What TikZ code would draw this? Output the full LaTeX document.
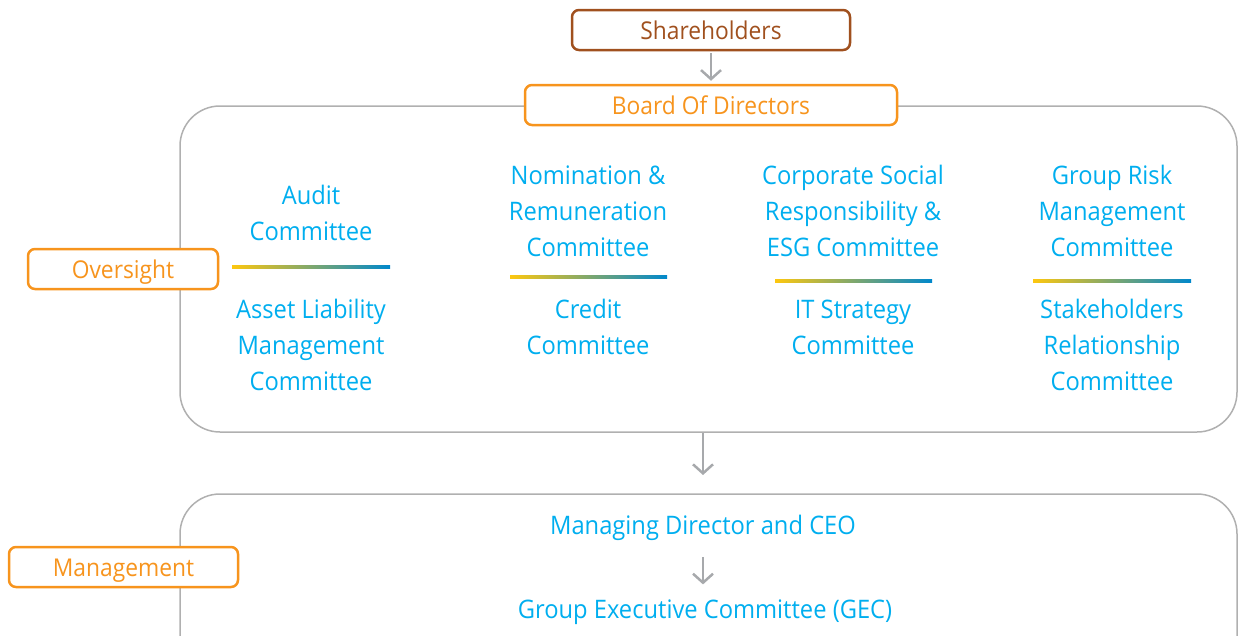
\documentclass[tikz,border=0pt]{standalone}
\usepackage{fontspec}
\setmainfont[FakeStretch=0.93]{Open Sans}
\usetikzlibrary{arrows.meta}
\definecolor{shbrown}{HTML}{A0501E}
\definecolor{boxorange}{HTML}{F7941D}
\definecolor{cmteblue}{HTML}{00AEEF}
\definecolor{framegray}{HTML}{B0B0B0}
\definecolor{arrowgray}{HTML}{A7A9AC}
\definecolor{lineyellow}{HTML}{FDC70F}
\definecolor{lineblue}{HTML}{0088CC}
\tikzset{
  frame/.style={draw=framegray, line width=1.5pt, rounded corners=40pt},
  tagbox/.style={draw=boxorange, text=boxorange, fill=white, line width=2.5pt,
    rounded corners=7pt, minimum height=40pt, inner sep=0pt,
    text height=19.5pt, text depth=0pt,
    font=\fontsize{24.5}{36}\selectfont},
  cmte/.style={text=cmteblue, align=center, inner sep=0pt,
    font=\fontsize{25.5}{36}\selectfont},
  flow/.style={draw=arrowgray, line width=2.5pt,
    -{Straight Barb[length=9pt,width=20pt]}},
  bar/.style={left color=lineyellow, right color=lineblue}
}
\begin{document}
\begin{tikzpicture}[x=1pt,y=-1pt]
        \useasboundingbox (0,0) rectangle (1238,635);
        \clip (0,0) rectangle (1238,635);
        % frames
        \draw [frame] (180,106) rectangle (1237,432);
        \draw [frame] (180,494) rectangle (1237,690);
        % top
        \node [tagbox, draw=shbrown, text=shbrown, minimum width=278pt] (share) at (711,30) {Shareholders};
        \node [tagbox, minimum width=372pt] (board) at (711,105) {Board Of Directors};
        \draw [flow, shorten <=2pt, shorten >=3pt] (share) -- (board);
        \node [tagbox, minimum width=190pt] (oversight) at (123,269) {Oversight};
        \node [tagbox, minimum width=229pt] (mgmt) at (123.5,567) {Management};
        % committees
        \node [cmte] (audit) at (311,213) {Audit\\Committee};
        \node [cmte] (alm) at (311,345) {Asset Liability\\Management\\Committee};
        \node [cmte] (nomrem) at (588,211) {Nomination \&\\Remuneration\\Committee};
        \node [cmte] (credit) at (588,327) {Credit\\Committee};
        \node [cmte] (csr) at (853,211) {Corporate Social\\Responsibility \&\\ESG Committee};
        \node [cmte] (itstrat) at (853,327) {IT Strategy\\Committee};
        \node [cmte] (grisk) at (1112,211) {Group Risk\\Management\\Committee};
        \node [cmte] (stake) at (1112,345) {Stakeholders\\Relationship\\Committee};
        \shade [bar] (232,265.5) rectangle (390,268.5);
        \shade [bar] (510,275.5) rectangle (667,278.5);
        \shade [bar] (775,279.5) rectangle (932,282.5);
        \shade [bar] (1033,279.5) rectangle (1191,282.5);
        % management
        \coordinate (ovbot) at (703,433);
        \coordinate (mgtop) at (703,475);
        \draw [flow] (ovbot) -- (mgtop);
        \node [cmte] (ceo) at (703,528) {Managing Director and CEO};
        \node [cmte] (gec) at (705,612) {Group Executive Committee (GEC)};
        \draw [flow, shorten <=16pt, shorten >=15pt] (ceo.south) -- (ceo.south |- gec.north);
      \end{tikzpicture}
\end{document}
